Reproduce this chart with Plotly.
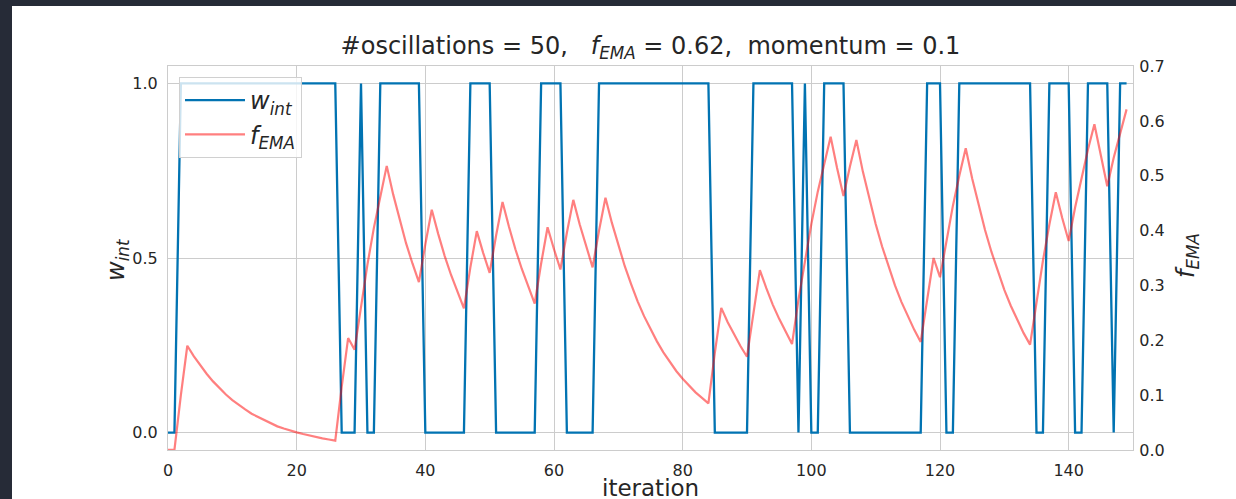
import plotly.graph_objects as go

iterations = list(range(150))

w_int = [0, 0] + [1] * 25 + [0, 0, 0, 1, 0, 0] + [1] * 7 + [0] * 7 + [1] * 4 + [0] * 7 \
    + [1] * 4 + [0] * 5 + [1] * 18 + [0] * 6 + [1] * 7 + [0, 1, 0, 0] + [1] * 4 + [0] * 12 \
    + [1] * 3 + [0, 0] + [1] * 12 + [0, 0] + [1] * 4 + [0, 0] + [1] * 4 + [0, 1, 1]

f_ema = [
    0.000, 0.000, 0.100, 0.190, 0.171, 0.154, 0.139, 0.125, 0.112, 0.101,
    0.091, 0.082, 0.074, 0.066, 0.060, 0.054, 0.048, 0.043, 0.039, 0.035,
    0.032, 0.029, 0.026, 0.023, 0.021, 0.019, 0.017, 0.115, 0.204, 0.183,
    0.265, 0.338, 0.405, 0.464, 0.518, 0.466, 0.419, 0.377, 0.340, 0.306,
    0.375, 0.438, 0.394, 0.354, 0.319, 0.287, 0.258, 0.333, 0.399, 0.359,
    0.323, 0.391, 0.452, 0.407, 0.366, 0.330, 0.297, 0.267, 0.340, 0.406,
    0.366, 0.329, 0.396, 0.456, 0.411, 0.370, 0.333, 0.400, 0.460, 0.414,
    0.372, 0.335, 0.302, 0.271, 0.244, 0.220, 0.198, 0.178, 0.160, 0.144,
    0.130, 0.117, 0.105, 0.095, 0.085, 0.177, 0.259, 0.233, 0.210, 0.189,
    0.170, 0.253, 0.328, 0.295, 0.265, 0.239, 0.215, 0.193, 0.274, 0.347,
    0.412, 0.471, 0.524, 0.571, 0.514, 0.463, 0.517, 0.565, 0.508, 0.458,
    0.412, 0.371, 0.334, 0.300, 0.270, 0.243, 0.219, 0.197, 0.277, 0.350,
    0.315, 0.383, 0.445, 0.500, 0.550, 0.495, 0.446, 0.401, 0.361, 0.325,
    0.292, 0.263, 0.237, 0.213, 0.192, 0.273, 0.345, 0.411, 0.470, 0.423,
    0.381, 0.442, 0.498, 0.548, 0.594, 0.534, 0.481, 0.533, 0.579, 0.621,
]

x_ticks = [0, 20, 40, 60, 80, 100, 120, 140]
w_ticks = [0.0, 0.5, 1.0]
f_ticks = [0.0, 0.1, 0.2, 0.3, 0.4, 0.5, 0.6, 0.7]

title_text = "#oscillations = 50,   <i>f<sub>EMA</sub></i> = 0.62,  momentum = 0.1"

FONT = "DejaVu Sans"
TXT = "#262626"
GRID = "#cccccc"
DARK = "#262b37"

fig = go.Figure()
fig.add_trace(go.Scatter(
    x=iterations, y=w_int, mode="lines", name="<i>w<sub>int</sub></i>",
    line=dict(color="#0173b2", width=2.3), yaxis="y"))
fig.add_trace(go.Scatter(
    x=iterations, y=f_ema, mode="lines", name="<i>f<sub>EMA</sub></i>",
    line=dict(color="rgba(255,0,0,0.5)", width=2.2), yaxis="y2"))

# plot area in pixels: left 168, right 1133, top 66, bottom 450
L, R, T, B = 168, 1133, 66, 450
W, H = 1236, 499
pw, ph = R - L, B - T


def px_x(p):
    return (p - L) / pw


def px_y(p):
    return (B - p) / ph


def axis_common(tl):
    return dict(
        showline=True, linecolor=GRID, linewidth=1.25, zeroline=False,
        ticks="outside", ticklen=tl, tickcolor="rgba(0,0,0,0)",
        tickfont=dict(family=FONT, size=16, color=TXT),
    )


fig.update_layout(
    width=W, height=H,
    margin=dict(l=L, r=W - R, t=T, b=H - B, pad=0),
    paper_bgcolor="white", plot_bgcolor="white",
    font=dict(family=FONT, color=TXT),
    showlegend=True,
    title=dict(text=title_text, x=(L + R) / 2 / W, xanchor="center",
               y=(H - 46) / H, yanchor="middle",
               font=dict(family=FONT, size=24, color=TXT)),
    xaxis=dict(range=[0, 150], tickvals=x_ticks, showgrid=True, gridcolor=GRID,
               gridwidth=1.1, mirror=True, **axis_common(6)),
    yaxis=dict(range=[-0.05, 1.05], tickvals=w_ticks, tickformat=".1f",
               showgrid=True, gridcolor=GRID, gridwidth=1.1, mirror=True,
               **axis_common(6)),
    yaxis2=dict(range=[-0.0001, 0.7001], tickvals=f_ticks, tickformat=".1f",
                overlaying="y", side="right", showgrid=False, **axis_common(2)),
    legend=dict(x=px_x(179), y=px_y(77), xanchor="left", yanchor="top",
                bgcolor="rgba(255,255,255,0.8)", bordercolor="#d0d0d0",
                borderwidth=1, font=dict(family=FONT, size=24, color=TXT),
                itemwidth=60, tracegroupgap=0),
)

annotations = [
    dict(text="iteration", x=px_x((L + R) / 2), y=px_y(488), xref="paper", yref="paper",
         showarrow=False, xanchor="center", yanchor="middle",
         font=dict(family=FONT, size=23, color=TXT)),
    dict(text="<i>w<sub>int</sub></i>", x=px_x(117), y=px_y(260), xref="paper", yref="paper",
         showarrow=False, xanchor="center", yanchor="middle", textangle=-90,
         font=dict(family=FONT, size=24, color=TXT)),
    dict(text="<i>f<sub>EMA</sub></i>", x=px_x(1187), y=px_y(256), xref="paper", yref="paper",
         showarrow=False, xanchor="center", yanchor="middle", textangle=-90,
         font=dict(family=FONT, size=24, color=TXT)),
]
fig.update_layout(annotations=annotations)

# dark frame of the screenshot (top and left strips)
fig.add_shape(type="rect", xref="paper", yref="paper", layer="above",
              x0=px_x(-2), x1=px_x(W + 2), y0=px_y(6), y1=px_y(-2),
              fillcolor=DARK, line=dict(width=0))
fig.add_shape(type="rect", xref="paper", yref="paper", layer="above",
              x0=px_x(-2), x1=px_x(12), y0=px_y(H + 2), y1=px_y(-2),
              fillcolor=DARK, line=dict(width=0))

fig.write_html("out.html")
